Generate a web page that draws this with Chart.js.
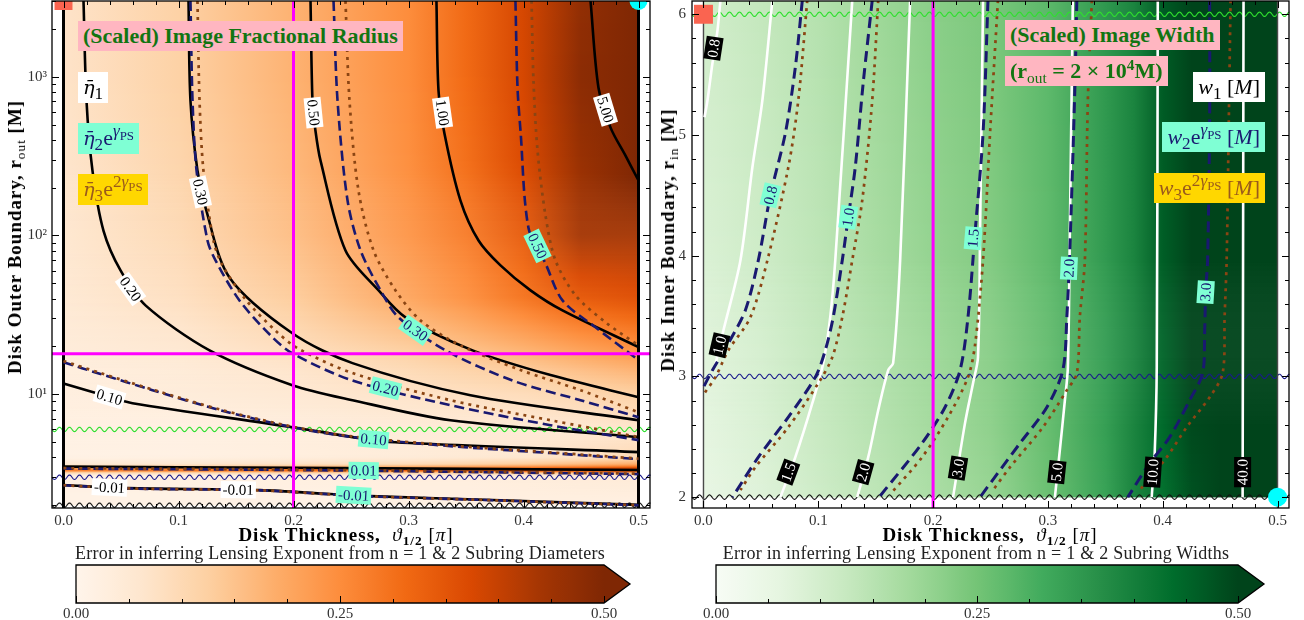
<!DOCTYPE html>
<html>
<head>
<meta charset="utf-8">
<script src="https://cdn.jsdelivr.net/npm/chart.js@4.4.1/dist/chart.umd.min.js"></script>
<style>
  html, body { margin: 0; padding: 0; background: #fff; }
  body { position: relative; width: 1304px; height: 620px; overflow: hidden; font-family: 'Liberation Serif', serif; }
  canvas { position: absolute; }
  .box { position: absolute; font-size: 22px; line-height: 22px; padding: 4px 5px; white-space: nowrap; }
  .ttl { font-weight: bold; color: #127512; background: #ffb6c1; }
  .k1 { background: #ffffff; color: #000; }
  .k2 { background: #7fffd4; color: #191970; }
  .k3 { background: #ffd700; color: #9a5a1c; }
  .eta { font-family: 'DejaVu Serif', serif; font-style: italic; font-size: 0.88em; }
  sub, sup { font-size: 78%; line-height: 0; }
  sub sub, sup sub { font-size: 75%; }
  sub { vertical-align: -0.3em; }
  sup { vertical-align: 0.55em; }
  .ttl sub, .ttl sup { font-size: 70%; }
  .yt, .xt, .ct { position: absolute; white-space: nowrap; transform: translate(-50%, -50%); }
  .yt { font-weight: bold; font-size: 19px; letter-spacing: 1px; transform: translate(-50%, -50%) rotate(-90deg); }
  .xt { font-weight: bold; font-size: 19px; letter-spacing: 1px; }
  .yt sub, .xt sub, .ct sub { font-size: 70%; }
  .ct { font-size: 18px; letter-spacing: 0.25px; color: #222; }
  .nb { font-weight: normal; }
</style>
</head>
<body>
<canvas id="left" width="660" height="545" style="left:0;top:0"></canvas>
<canvas id="right" width="649" height="545" style="left:655px;top:0"></canvas>
<canvas id="cbl" width="655" height="75" style="left:0;top:545px"></canvas>
<canvas id="cbr" width="649" height="75" style="left:655px;top:545px"></canvas>

<div class="box ttl" style="left:78px;top:21px">(Scaled) Image Fractional Radius</div>
<div class="box k1" style="left:78px;top:72px"><span class="eta">η̄</span><sub>1</sub></div>
<div class="box k2" style="left:78px;top:123px"><span class="eta">η̄</span><sub>2</sub>e<sup><i>γ</i><sub>PS</sub></sup></div>
<div class="box k3" style="left:78px;top:174px"><span class="eta">η̄</span><sub>3</sub>e<sup>2<i>γ</i><sub>PS</sub></sup></div>

<div class="box ttl" style="left:1005px;top:20px">(Scaled) Image Width</div>
<div class="box ttl" style="left:1005px;top:56px">(r<sub class="nb">out</sub> = 2 × 10<sup>4</sup>M)</div>
<div class="box k1" style="right:39px;top:72px"><i>w</i><sub>1</sub> [<i>M</i>]</div>
<div class="box k2" style="right:39px;top:122px"><i>w</i><sub>2</sub>e<sup><i>γ</i><sub>PS</sub></sup> [<i>M</i>]</div>
<div class="box k3" style="right:39px;top:173px"><i>w</i><sub>3</sub>e<sup>2<i>γ</i><sub>PS</sub></sup> [<i>M</i>]</div>

<div class="yt" style="left:15px;top:237px">Disk Outer Boundary, r<sub class="nb">out</sub> [M]</div>
<div class="yt" style="left:668px;top:240px">Disk Inner Boundary, r<sub class="nb">in</sub> [M]</div>
<div class="xt" style="left:346px;top:535px">Disk Thickness, &nbsp;<i class="nb">ϑ</i><sub>1/2</sub> <span class="nb">[<i>π</i>]</span></div>
<div class="xt" style="left:990px;top:535px">Disk Thickness, &nbsp;<i class="nb">ϑ</i><sub>1/2</sub> <span class="nb">[<i>π</i>]</span></div>
<div class="ct" style="left:340px;top:553px">Error in inferring Lensing Exponent from n = 1 &amp; 2 Subring Diameters</div>
<div class="ct" style="left:976px;top:553px">Error in inferring Lensing Exponent from n = 1 &amp; 2 Subring Widths</div>

<script>
// ---------- shared axis ticks ----------
const thicknessTicks = [0, 0.1, 0.2, 0.3, 0.4, 0.5];
const outerTicks = [10, 100, 1000];
const innerTicks = [2, 3, 4, 5, 6];
const barTicks = [0, 0.25, 0.5];

// ---------- left panel: error field on (thickness, r_out) ----------
const fracX = [0, 0.1, 0.2, 0.3, 0.35, 0.4, 0.45, 0.5];
const fracR = [3000, 1000, 300, 100, 40, 18, 10, 6, 4, 3.6, 3.42, 3.3, 3.18, 3.05, 2];
const fracErr = [
  [0.07, 0.12, 0.18, 0.25, 0.31, 0.38, 0.47, 0.55],
  [0.07, 0.12, 0.18, 0.25, 0.31, 0.38, 0.48, 0.55],
  [0.065, 0.11, 0.17, 0.245, 0.30, 0.37, 0.46, 0.52],
  [0.06, 0.10, 0.16, 0.235, 0.28, 0.34, 0.44, 0.44],
  [0.05, 0.08, 0.13, 0.20, 0.24, 0.29, 0.34, 0.36],
  [0.035, 0.05, 0.08, 0.12, 0.145, 0.17, 0.20, 0.23],
  [0.025, 0.035, 0.05, 0.07, 0.08, 0.09, 0.105, 0.12],
  [0.02, 0.02, 0.03, 0.04, 0.045, 0.05, 0.055, 0.065],
  [0.015, 0.02, 0.03, 0.04, 0.05, 0.06, 0.08, 0.10],
  [0.05, 0.06, 0.08, 0.10, 0.12, 0.14, 0.17, 0.20],
  [0.18, 0.20, 0.22, 0.25, 0.27, 0.30, 0.33, 0.37],
  [0.30, 0.32, 0.34, 0.37, 0.39, 0.42, 0.45, 0.50],
  [0.10, 0.10, 0.11, 0.12, 0.13, 0.14, 0.16, 0.18],
  [0.02, 0.02, 0.025, 0.03, 0.03, 0.035, 0.04, 0.045],
  [0.01, 0.01, 0.01, 0.015, 0.015, 0.02, 0.02, 0.02]
];

// eta_1 contours (solid black), [thickness, r_out]
const eta1Lines = [
  { text: '5.00', at: [[0.4713, 620]], pts: [[0.4583, 3000], [0.4652, 853], [0.4757, 478], [0.4887, 318], [0.5, 222]] },
  { text: '1.00', at: [[0.3296, 594]], pts: [[0.3243, 3000], [0.3261, 816], [0.3313, 438], [0.3452, 166], [0.3609, 93], [0.38, 64.8], [0.4061, 45.1], [0.4339, 33.7], [0.5, 19.8]] },
  { text: '0.50', at: [[0.2174, 594]], pts: [[0.2148, 3000], [0.2165, 706], [0.2191, 457], [0.2235, 296], [0.2452, 80.5], [0.274, 45.1], [0.2974, 30.5], [0.3557, 18.9], [0.4235, 13.2], [0.5, 9.58]] },
  { text: '0.30', at: [[0.1191, 188]], pts: [[0.1087, 3000], [0.1104, 706], [0.1165, 256], [0.1235, 150], [0.1443, 54.4], [0.199, 24.2], [0.2513, 15.7], [0.3539, 9.86], [0.5, 6.86]] },
  { text: '0.20', at: [[0.0583, 46]], pts: [[0.0174, 3000], [0.02, 706], [0.0252, 256], [0.0348, 107], [0.0496, 60.2], [0.0713, 36.3], [0.127, 18.9], [0.199, 11.4], [0.2513, 9.17], [0.3365, 6.86], [0.5, 5.37]] },
  { text: '0.10', at: [[0.04, 9.6]], pts: [[0, 11.7], [0.04, 9.6], [0.06, 8.78], [0.199, 6.2], [0.2513, 5.37], [0.2826, 5.0], [0.5, 4.32]] },
  { text: '0.01', at: [], pts: [[0, 3.5], [0.2, 3.44], [0.5, 3.33]] },
  { text: '-0.01', at: [[0.04, 2.59], [0.152, 2.5]], pts: [[0, 2.68], [0.0557, 2.56], [0.171, 2.49], [0.232, 2.35], [0.267, 2.28], [0.38, 2.15], [0.5, 2.01]] }
];
// eta_2 e^gamma contours (dashed navy)
const eta2Lines = [
  { text: '0.50', at: [[0.4122, 86]], pts: [[0.393, 3000], [0.3948, 853], [0.3974, 457], [0.4043, 112], [0.4191, 66.7], [0.4339, 39], [0.4626, 26.4], [0.5, 16.4]] },
  { text: '0.30', at: [[0.306, 25.3]], pts: [[0.2348, 3000], [0.2383, 706], [0.247, 166], [0.2583, 80.5], [0.2757, 45.1], [0.2913, 30.5], [0.3322, 18.9], [0.3904, 12.2], [0.4496, 9.17], [0.5, 7.16]] },
  { text: '0.20', at: [[0.28, 10.9]], pts: [[0.1104, 3000], [0.1122, 706], [0.1157, 256], [0.1252, 93], [0.1322, 69.7], [0.153, 39], [0.18, 23.5], [0.199, 18.1], [0.2513, 12.2], [0.3365, 8.53], [0.4235, 6.38], [0.5, 5.14]] },
  { text: '0.10', at: [[0.2696, 5.2]], pts: [[0, 15.9], [0.0322, 13.4], [0.0774, 10.6], [0.1365, 7.93], [0.199, 6.2], [0.2513, 5.37], [0.3365, 4.71], [0.4235, 4.26], [0.5, 3.9]] },
  { text: '0.01', at: [[0.261, 3.31]], pts: [[0, 3.4], [0.2, 3.33], [0.5, 3.14]] },
  { text: '-0.01', at: [[0.2522, 2.31]], pts: [[0, 2.67], [0.0557, 2.55], [0.171, 2.48], [0.232, 2.34], [0.267, 2.27], [0.38, 2.14], [0.5, 2.0]] }
];
// eta_3 e^{2 gamma} contours (dotted brown)
const eta3Lines = [
  { pts: [[0.407, 3000], [0.4087, 944], [0.4122, 343], [0.4191, 134], [0.4278, 69.7], [0.4452, 42], [0.4713, 28.4], [0.5, 20.3]] },
  { pts: [[0.2452, 3000], [0.2487, 706], [0.2565, 192], [0.2696, 80.5], [0.2887, 45.1], [0.3104, 29.2], [0.3452, 20.3], [0.3974, 14.2], [0.4496, 10.6], [0.5, 7.7]] },
  { pts: [[0.1165, 3000], [0.1183, 706], [0.1217, 256], [0.1304, 93], [0.1383, 64.8], [0.159, 39], [0.184, 25.3], [0.2035, 19.5], [0.2513, 13.6], [0.3365, 9.17], [0.4235, 6.86], [0.5, 5.37]] },
  { pts: [[0, 16.2], [0.0322, 13.6], [0.0774, 10.7], [0.1365, 8.0], [0.199, 6.25], [0.2513, 5.42], [0.3365, 4.75], [0.4235, 4.3], [0.5, 3.93]] },
  { pts: [[0, 3.42], [0.2, 3.35], [0.5, 3.16]] },
  { pts: [[0, 2.67], [0.0557, 2.55], [0.171, 2.48], [0.232, 2.34], [0.267, 2.27], [0.38, 2.14], [0.5, 2.0]] }
];
const leftCross = { x: 0.2, r: 18 };
const leftWaves = [6, 3, 2];

// ---------- right panel: error field on (thickness, r_in) ----------
const widthX = [0, 0.05, 0.1, 0.15, 0.2, 0.25, 0.3, 0.35, 0.375, 0.4, 0.425, 0.45, 0.5];
const widthY = [6.11, 4, 3, 2];
const widthErr = [
  [0.105, 0.13, 0.155, 0.19, 0.22, 0.24, 0.28, 0.35, 0.39, 0.465, 0.55, 0.6, 0.6],
  [0.085, 0.11, 0.14, 0.175, 0.205, 0.23, 0.275, 0.345, 0.39, 0.46, 0.52, 0.55, 0.55],
  [0.07, 0.095, 0.13, 0.16, 0.19, 0.22, 0.27, 0.34, 0.39, 0.45, 0.5, 0.52, 0.52],
  [0.05, 0.075, 0.11, 0.14, 0.17, 0.2, 0.26, 0.33, 0.39, 0.43, 0.48, 0.52, 0.55]
];
// w_1 contours (solid white), [thickness, r_in]
const w1Lines = [
  { text: '0.8', at: [[0.0087, 5.718]], pts: [[0.0148, 6.116], [0.0122, 5.867], [0.0078, 5.594], [0.0035, 5.288], [0.0009, 5.147]] },
  { text: '1.0', at: [[0.0139, 3.259]], pts: [[0.06, 6.116], [0.0513, 5.288], [0.0426, 4.733], [0.0322, 3.963], [0.0174, 3.383], [0.0104, 3.1]] },
  { text: '1.5', at: [[0.0739, 2.207]], pts: [[0.1296, 6.116], [0.1148, 3.963], [0.1104, 3.491], [0.1043, 3.11], [0.0948, 2.778], [0.08, 2.331], [0.067, 2.0]] },
  { text: '2.0', at: [[0.1391, 2.207]], pts: [[0.18, 6.116], [0.1713, 3.963], [0.1652, 3.11], [0.1609, 3.052], [0.1522, 2.72], [0.1435, 2.331], [0.1339, 2.0]] },
  { text: '3.0', at: [[0.2217, 2.24]], pts: [[0.2435, 6.116], [0.2409, 4.186], [0.2391, 3.159], [0.2348, 2.944], [0.2278, 2.613], [0.2174, 2.0]] },
  { text: '5.0', at: [[0.3078, 2.207]], pts: [[0.3217, 6.116], [0.3191, 4.186], [0.3174, 3.077], [0.3148, 2.803], [0.3104, 2.389], [0.3061, 2.0]] },
  { text: '10.0', at: [[0.3913, 2.207]], pts: [[0.3957, 6.116], [0.3948, 3.077], [0.393, 2.364], [0.3904, 2.0]] },
  { text: '40.0', at: [[0.4696, 2.207]], pts: [[0.4704, 6.116], [0.4696, 2.0]] }
];
// w_2 e^gamma contours (dashed navy)
const w2Lines = [
  { text: '0.8', at: [[0.0583, 4.501]], pts: [[0.0861, 6.116], [0.08, 5.561], [0.0713, 5.014], [0.0583, 4.501], [0.0478, 3.963], [0.0365, 3.549], [0.0217, 3.275], [0.0078, 3.052], [0, 2.911]] },
  { text: '1.0', at: [[0.1261, 4.319]], pts: [[0.147, 6.116], [0.1391, 5.429], [0.1322, 4.733], [0.1261, 4.319], [0.1209, 3.963], [0.113, 3.491], [0.1061, 3.217], [0.0974, 2.994], [0.0739, 2.663], [0.0478, 2.331], [0.0252, 2.0]] },
  { text: '1.5', at: [[0.2348, 4.145]], pts: [[0.2478, 6.116], [0.2435, 5.014], [0.2365, 4.186], [0.2304, 3.491], [0.2235, 3.052], [0.2104, 2.745], [0.1904, 2.447], [0.153, 2.0]] },
  { text: '2.0', at: [[0.3183, 3.896]], pts: [[0.3252, 6.116], [0.3235, 5.395], [0.3191, 4.046], [0.3165, 3.491], [0.313, 3.052], [0.2991, 2.745], [0.2757, 2.447], [0.2409, 2.0]] },
  { text: '3.0', at: [[0.4374, 3.698]], pts: [[0.4409, 6.116], [0.4409, 5.147], [0.4391, 3.963], [0.4374, 3.698], [0.4365, 3.358], [0.4348, 3.027], [0.4235, 2.803], [0.4061, 2.497], [0.3887, 2.282], [0.3696, 2.0]] }
];
// w_3 e^{2 gamma} contours (dotted brown)
const w3Lines = [
  { pts: [[0.0904, 6.116], [0.0826, 5.288], [0.0739, 4.733], [0.0557, 3.963], [0.0409, 3.491], [0.0217, 3.217], [0.0104, 2.994], [0.0009, 2.861]] },
  { pts: [[0.1522, 6.116], [0.147, 5.288], [0.1383, 4.46], [0.1296, 3.963], [0.1209, 3.491], [0.1122, 3.159], [0.1, 2.944], [0.0739, 2.58], [0.0452, 2.248], [0.0322, 2.058]] },
  { pts: [[0.2565, 6.116], [0.2496, 5.014], [0.2435, 3.963], [0.2365, 3.259], [0.2304, 2.994], [0.213, 2.663], [0.1904, 2.331], [0.1643, 2.041]] },
  { pts: [[0.3383, 6.116], [0.3348, 5.288], [0.3322, 3.963], [0.3278, 3.491], [0.3252, 3.027], [0.3165, 2.886], [0.2957, 2.58], [0.267, 2.248], [0.2522, 2.058]] },
  { pts: [[0.4591, 6.116], [0.4574, 5.014], [0.4557, 3.963], [0.4539, 3.491], [0.4522, 3.027], [0.4409, 2.828], [0.4209, 2.58], [0.4035, 2.331], [0.38, 2.058]] }
];
const rightCrossX = 0.2;
const rightWaves = [6, 3, 2];

// ---------- colour maps ----------
const ORANGES = ['#fff5eb', '#fee6ce', '#fdd0a2', '#fdae6b', '#fd8d3c', '#f16913', '#d94801', '#a63603', '#7f2704'];
const GREENS = ['#f7fcf5', '#e5f5e0', '#c7e9c0', '#a1d99b', '#74c476', '#41ab5d', '#238b45', '#006d2c', '#00441b'];
const VMAX = 0.5;

function hexRgb(h) { return [1, 3, 5].map(i => parseInt(h.substr(i, 2), 16)); }
function colour(stops, t) {
  t = Math.max(0, Math.min(1, t));
  const p = t * (stops.length - 1), i = Math.min(stops.length - 2, Math.floor(p)), f = p - i;
  const a = hexRgb(stops[i]), b = hexRgb(stops[i + 1]);
  return 'rgb(' + a.map((v, k) => Math.round(v + (b[k] - v) * f)).join(',') + ')';
}

// ---------- drawing helpers ----------
const FONT = 'Liberation Serif';
const NAVY = '#191970', BROWN = '#8b4513', MAGENTA = '#ff00ff';

function drawField(chart, f) {
  const { ctx, chartArea: a, scales: { x: X, y: Y } } = chart;
  ctx.save();
  ctx.beginPath(); ctx.rect(a.left, a.top, a.right - a.left, a.bottom - a.top); ctx.clip();
  const px = f.xs.map(v => X.getPixelForValue(v));
  const x0 = px[0], x1 = px[px.length - 1], w = x1 - x0;
  for (let i = 0; i < f.ys.length - 1; i++) {
    const ya = Y.getPixelForValue(f.ys[i]), yb = Y.getPixelForValue(f.ys[i + 1]);
    const n = Math.max(1, Math.round(Math.abs(yb - ya)));
    const h = (yb - ya) / n;
    for (let s = 0; s < n; s++) {
      const t = (s + 0.5) / n;
      const g = ctx.createLinearGradient(x0, 0, x1, 0);
      px.forEach((p, j) => {
        const v = f.grid[i][j] * (1 - t) + f.grid[i + 1][j] * t;
        g.addColorStop((p - x0) / w, colour(f.stops, v / VMAX));
      });
      ctx.fillStyle = g;
      const top = Math.min(ya + h * s, ya + h * (s + 1));
      ctx.fillRect(x0, top - 0.3, w, Math.abs(h) + 0.6);
    }
  }
  ctx.restore();
}

function drawWaves(chart, waves) {
  const { ctx, chartArea: a, scales: { y: Y } } = chart;
  ctx.save();
  ctx.lineWidth = 1.1;
  waves.forEach(wv => {
    const y0 = Y.getPixelForValue(wv.y);
    ctx.strokeStyle = wv.color;
    ctx.beginPath();
    for (let x = a.left; x <= a.right + 0.5; x += 0.5) {
      const yy = y0 + 2.2 * Math.sin((x - a.left) / 10 * 2 * Math.PI);
      if (x === a.left) ctx.moveTo(x, yy); else ctx.lineTo(x, yy);
    }
    ctx.stroke();
  });
  ctx.restore();
}

function drawLabels(chart, labels) {
  const { ctx, scales: { x: X, y: Y } } = chart;
  ctx.save();
  ctx.font = '15px "' + FONT + '"';
  ctx.textAlign = 'center'; ctx.textBaseline = 'middle';
  labels.forEach(L => {
    const px = X.getPixelForValue(L.x), py = Y.getPixelForValue(L.y);
    let best = Infinity, ang = 0;
    for (let i = 0; i < L.pts.length - 1; i++) {
      const p = { x: X.getPixelForValue(L.pts[i][0]), y: Y.getPixelForValue(L.pts[i][1]) };
      const q = { x: X.getPixelForValue(L.pts[i + 1][0]), y: Y.getPixelForValue(L.pts[i + 1][1]) };
      const dx = q.x - p.x, dy = q.y - p.y, len2 = dx * dx + dy * dy || 1;
      const u = Math.max(0, Math.min(1, ((px - p.x) * dx + (py - p.y) * dy) / len2));
      const d = Math.hypot(p.x + u * dx - px, p.y + u * dy - py);
      if (d < best) { best = d; ang = Math.atan2(dy, dx); }
    }
    if (ang > Math.PI / 2) ang -= Math.PI;
    if (ang <= -Math.PI / 2) ang += Math.PI;
    ctx.save();
    ctx.translate(px, py); ctx.rotate(ang);
    const w = ctx.measureText(L.text).width;
    ctx.fillStyle = L.box; ctx.fillRect(-w / 2 - 2, -8.5, w + 4, 17);
    ctx.fillStyle = L.ink; ctx.fillText(L.text, 0, 1);
    ctx.restore();
  });
  ctx.restore();
}

function drawFrame(chart, t) {
  const { ctx, chartArea: a, scales: { x: X, y: Y } } = chart;
  ctx.save();
  ctx.strokeStyle = '#000'; ctx.lineWidth = 1;
  ctx.beginPath();
  const vt = (v, len) => { const p = Math.round(X.getPixelForValue(v)) + 0.5; ctx.moveTo(p, a.bottom); ctx.lineTo(p, a.bottom - len); ctx.moveTo(p, a.top); ctx.lineTo(p, a.top + len); };
  const ht = (v, len) => { const p = Math.round(Y.getPixelForValue(v)) + 0.5; ctx.moveTo(a.left, p); ctx.lineTo(a.left + len, p); ctx.moveTo(a.right, p); ctx.lineTo(a.right - len, p); };
  t.xMajor.forEach(v => vt(v, 7)); t.xMinor.forEach(v => vt(v, 4));
  t.yMajor.forEach(v => ht(v, 7)); t.yMinor.forEach(v => ht(v, 4));
  ctx.stroke();
  ctx.lineWidth = 1.3;
  ctx.strokeRect(a.left, a.top, a.right - a.left, a.bottom - a.top);
  ctx.restore();
}

function panelPlugin(cfg) {
  return {
    id: 'panel',
    beforeDatasetsDraw(chart) { drawField(chart, cfg.field); drawWaves(chart, cfg.waves); },
    afterDatasetsDraw(chart) { drawLabels(chart, cfg.labels); },
    afterDraw(chart) { drawFrame(chart, cfg.ticks); }
  };
}

function line(pts, color, width, dash, order) {
  return {
    data: pts.map(([x, y]) => ({ x, y })), showLine: true, borderColor: color, borderWidth: width,
    borderDash: dash, borderCapStyle: 'butt', pointRadius: 0, pointHoverRadius: 0, fill: false, tension: 0.3, clip: 0, order
  };
}
function marker(x, y, style, radius, color) {
  return {
    data: [{ x, y }], showLine: false, pointStyle: style, pointRadius: radius, pointHoverRadius: radius,
    pointBackgroundColor: color, pointBorderWidth: 0, order: 0
  };
}
function labelsOf(lines, box, ink) {
  const out = [];
  lines.forEach(l => (l.at || []).forEach(([x, y]) => out.push({ text: l.text, x, y, pts: l.pts, box, ink })));
  return out;
}

// tick positions
const thicknessMinor = [];
for (let k = 1; k < 25; k++) if (k % 5) thicknessMinor.push(k * 0.02);
const outerMinor = [];
for (let d = 1; d <= 1000; d *= 10) for (let m = 2; m <= 9; m++) if (m * d >= 1.92 && m * d <= 3000) outerMinor.push(m * d);
const innerMinor = [];
for (let k = 10; k <= 30; k++) if (k % 5) innerMinor.push(k * 0.2);

const tickFont = { family: FONT, size: 15 };
const supDigits = { 10: '10¹', 100: '10²', 1000: '10³' };

function xAxis() {
  return {
    type: 'linear', min: -0.01, max: 0.51,
    afterBuildTicks: s => { s.ticks = thicknessTicks.map(v => ({ value: v })); },
    afterFit: s => { s.height = 37; s.paddingLeft = 0; s.paddingRight = 0; },
    grid: { display: false, drawTicks: false }, border: { display: false },
    ticks: { padding: 4, font: tickFont, color: '#333', maxRotation: 0, autoSkip: false, callback: v => v.toFixed(1) }
  };
}

function baseOptions(padding, yScale) {
  return {
    responsive: false, animation: false, devicePixelRatio: 1, events: [],
    layout: { padding, autoPadding: false },
    plugins: { legend: { display: false }, tooltip: { enabled: false } },
    scales: { x: xAxis(), y: yScale }
  };
}

// ---------- left chart ----------
const leftSets = [
  ...eta3Lines.map(l => line(l.pts, BROWN, 2.7, [3, 5], 3)),
  ...eta2Lines.map(l => line(l.pts, NAVY, 2.6, [10, 5], 4)),
  ...eta1Lines.map(l => line(l.pts, '#000', 2.6, [], 5)),
  line([[0, 1.92], [0, 3000]], '#000', 3, [], 5),
  line([[0.5, 1.92], [0.5, 3000]], '#000', 3, [], 5),
  line([[leftCross.x, 1.92], [leftCross.x, 3000]], MAGENTA, 3, [], 1),
  line([[-0.01, leftCross.r], [0.51, leftCross.r]], MAGENTA, 3, [], 1),
  marker(0, 3000, 'rect', 12.7, '#fa6450'),
  marker(0.5, 3000, 'circle', 9, '#00ffff')
];
new Chart(document.getElementById('left'), {
  type: 'scatter',
  data: { datasets: leftSets },
  options: baseOptions({ left: 0, right: 10, top: 1, bottom: 0 }, {
    type: 'logarithmic', min: 1.92, max: 3000,
    afterBuildTicks: s => { s.ticks = outerTicks.map(v => ({ value: v })); },
    afterFit: s => { s.width = 52; s.paddingTop = 0; s.paddingBottom = 0; },
    grid: { display: false, drawTicks: false }, border: { display: false },
    ticks: { padding: 5, font: tickFont, color: '#333', autoSkip: false, callback: v => supDigits[v] || '' }
  }),
  plugins: [panelPlugin({
    field: { xs: fracX, ys: fracR, grid: fracErr, stops: ORANGES },
    waves: [{ y: leftWaves[0], color: '#2ee02e' }, { y: leftWaves[1], color: '#1a1a8c' }, { y: leftWaves[2], color: '#111' }],
    labels: [...labelsOf(eta1Lines, '#ffffff', '#000'), ...labelsOf(eta2Lines, '#7fffd4', NAVY)],
    ticks: { xMajor: thicknessTicks, xMinor: thicknessMinor, yMajor: outerTicks, yMinor: outerMinor }
  })]
});

// ---------- right chart ----------
const rightSets = [
  ...w3Lines.map(l => line(l.pts, BROWN, 2.7, [3, 5], 3)),
  ...w2Lines.map(l => line(l.pts, NAVY, 3, [11, 6], 4)),
  ...w1Lines.map(l => line(l.pts, '#ffffff', 2.6, [], 5)),
  line([[0, 1.91], [0, 6.11]], '#4a4a4a', 1.4, [], 6),
  line([[0.5, 1.91], [0.5, 6.11]], '#4a4a4a', 1.4, [], 6),
  line([[rightCrossX, 1.91], [rightCrossX, 6.11]], MAGENTA, 3, [], 1),
  marker(0, 6, 'rect', 13.4, '#fa6450'),
  marker(0.5, 2, 'circle', 9.5, '#00ffff')
];
new Chart(document.getElementById('right'), {
  type: 'scatter',
  data: { datasets: rightSets },
  options: baseOptions({ left: 0, right: 15, top: 1, bottom: 0 }, {
    type: 'linear', min: 1.91, max: 6.11,
    afterBuildTicks: s => { s.ticks = innerTicks.map(v => ({ value: v })); },
    afterFit: s => { s.width = 37; s.paddingTop = 0; s.paddingBottom = 0; },
    grid: { display: false, drawTicks: false }, border: { display: false },
    ticks: { padding: 6, font: tickFont, color: '#333', autoSkip: false, callback: v => String(v) }
  }),
  plugins: [panelPlugin({
    field: { xs: widthX, ys: widthY, grid: widthErr, stops: GREENS },
    waves: [{ y: rightWaves[0], color: '#2ee02e' }, { y: rightWaves[1], color: '#1a1a8c' }, { y: rightWaves[2], color: '#111' }],
    labels: [...labelsOf(w1Lines, '#000000', '#ffffff'), ...labelsOf(w2Lines, '#7fffd4', NAVY)],
    ticks: { xMajor: thicknessTicks, xMinor: thicknessMinor, yMajor: innerTicks, yMinor: innerMinor }
  })]
});

// ---------- colour bars ----------
function colourBar(id, stops, padLeft, padRight) {
  new Chart(document.getElementById(id), {
    type: 'scatter',
    data: { datasets: [] },
    options: {
      responsive: false, animation: false, devicePixelRatio: 1, events: [],
      layout: { padding: { left: padLeft, right: padRight, top: 20, bottom: 0 }, autoPadding: false },
      plugins: { legend: { display: false }, tooltip: { enabled: false } },
      scales: {
        x: {
          type: 'linear', min: 0, max: VMAX,
          afterBuildTicks: s => { s.ticks = barTicks.map(v => ({ value: v })); },
          afterFit: s => { s.height = 17; s.paddingLeft = 0; s.paddingRight = 0; },
          grid: { display: false, drawTicks: false }, border: { display: false },
          ticks: { padding: 2, font: tickFont, color: '#333', maxRotation: 0, autoSkip: false, callback: v => v.toFixed(2) }
        },
        y: { display: false, min: 0, max: 1 }
      }
    },
    plugins: [{
      id: 'bar',
      afterDraw(chart) {
        const { ctx, chartArea: a, scales: { x: X } } = chart;
        const g = ctx.createLinearGradient(a.left, 0, a.right, 0);
        for (let k = 0; k <= 32; k++) g.addColorStop(k / 32, colour(stops, k / 32));
        ctx.save();
        ctx.fillStyle = g; ctx.fillRect(a.left, a.top, a.right - a.left, a.bottom - a.top);
        const tip = a.right + 26, mid = (a.top + a.bottom) / 2;
        ctx.fillStyle = colour(stops, 1);
        ctx.beginPath(); ctx.moveTo(a.right, a.top); ctx.lineTo(tip, mid); ctx.lineTo(a.right, a.bottom); ctx.closePath(); ctx.fill();
        ctx.strokeStyle = '#000'; ctx.lineWidth = 1;
        ctx.beginPath();
        for (let k = 0; k <= 10; k++) {
          const v = k * 0.05, p = Math.round(X.getPixelForValue(v)) + 0.5, len = (k % 5 === 0) ? 7 : 4;
          ctx.moveTo(p, a.bottom); ctx.lineTo(p, a.bottom - len);
        }
        ctx.stroke();
        ctx.lineWidth = 1.3;
        ctx.beginPath();
        ctx.moveTo(a.left, a.top); ctx.lineTo(a.right, a.top); ctx.lineTo(tip, mid); ctx.lineTo(a.right, a.bottom);
        ctx.lineTo(a.left, a.bottom); ctx.closePath(); ctx.stroke();
        ctx.restore();
      }
    }]
  });
}
colourBar('cbl', ORANGES, 76, 51);
colourBar('cbr', GREENS, 61, 66);
</script>
</body>
</html>
